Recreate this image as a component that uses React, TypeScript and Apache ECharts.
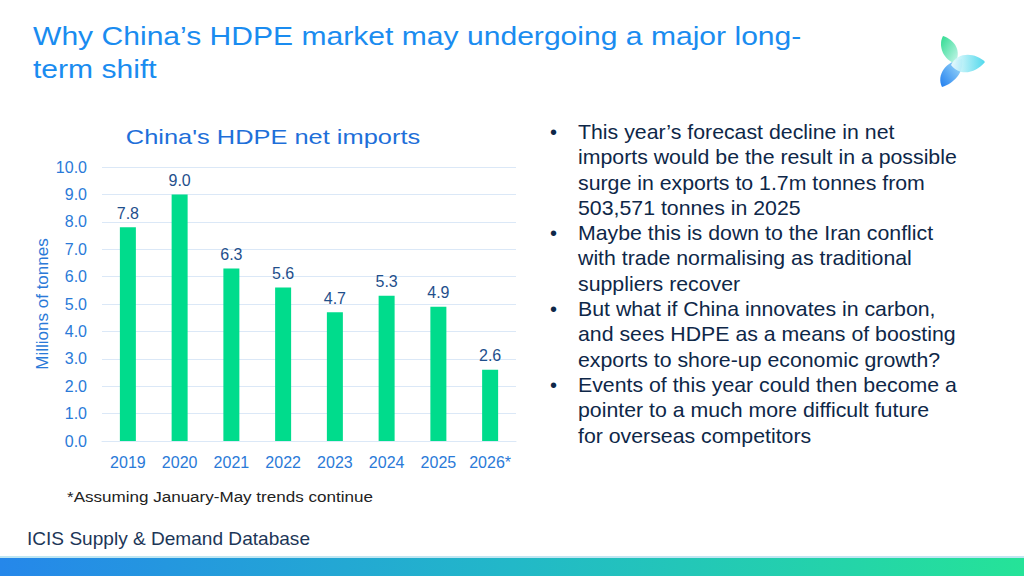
import React, { useEffect, useRef } from "react";
import * as echarts from "echarts";

const categories = ["2019", "2020", "2021", "2022", "2023", "2024", "2025", "2026*"];
const netImports = [7.8, 9.0, 6.3, 5.6, 4.7, 5.3, 4.9, 2.6];
const yTicks = { min: 0, max: 10, interval: 1 };

const titleLines = ["Why China\u2019s HDPE market may undergoing a major long-", "term shift"];
const chartTitle = "China's HDPE net imports";
const yAxisName = "Millions of tonnes";
const footnote = "*Assuming January-May trends continue";
const source = "ICIS Supply & Demand Database";
const bullets = [
  ["This year\u2019s forecast decline in net", "imports would be the result in a possible", "surge in exports to 1.7m tonnes from", "503,571 tonnes in 2025"],
  ["Maybe this is down to the Iran conflict", "with trade normalising as traditional", "suppliers recover"],
  ["But what if China innovates in carbon,", "and sees HDPE as a means of boosting", "exports to shore-up economic growth?"],
  ["Events of this year could then become a", "pointer to a much more difficult future", "for overseas competitors"],
];

const FONT = "Arial, 'Liberation Sans', Helvetica, sans-serif";

let registered = false;
function registerShapes() {
  if (registered) return;
  registered = true;
  echarts.graphic.registerShape(
    "petalGreen",
    echarts.graphic.extendPath("M-3,1 C-18,-6 -19,-20 -15,-27 C-3,-23 4,-12 -3,1 Z", {})
  );
  echarts.graphic.registerShape(
    "petalCyan",
    echarts.graphic.extendPath("M-7,2 C0,-12 18,-10 27,-1 C18,10 2,14 -7,2 Z", {})
  );
  echarts.graphic.registerShape(
    "petalBlue",
    echarts.graphic.extendPath("M4,-4 C6,10 -4,20 -16,24 C-22,12 -12,-2 4,-4 Z", {})
  );
}

export default function App() {
  const ref = useRef<HTMLDivElement>(null);

  useEffect(() => {
    document.body.style.margin = "0";
    registerShapes();
    const chart = echarts.init(ref.current!, null, { renderer: "svg" });

    const lineH = 25.3;
    const bulletGraphics: any[] = [];
    let lineIdx = 0;
    bullets.forEach((lines) => {
      const y = 119 + lineIdx * lineH;
      bulletGraphics.push({
        type: "text",
        x: 550,
        y,
        style: { text: "\u2022", font: `20px ${FONT}`, fill: "#0e2748", lineHeight: lineH, verticalAlign: "top" },
      });
      bulletGraphics.push({
        type: "text",
        x: 578,
        y,
        scaleX: 1.065,
        style: { text: lines.join("\n"), font: `20px ${FONT}`, fill: "#0e2748", lineHeight: lineH, verticalAlign: "top" },
      });
      lineIdx += lines.length;
    });

    const option: any = {
      animation: false,
      backgroundColor: "#ffffff",
      grid: { left: 102, right: 508, top: 167, bottom: 135, containLabel: false },
      xAxis: {
        type: "category",
        data: categories,
        axisLine: { show: true, lineStyle: { color: "#dbe8f7", width: 1 } },
        axisTick: { show: false },
        axisLabel: { color: "#2a7ad8", fontSize: 16, fontFamily: FONT, margin: 13, interval: 0 },
      },
      yAxis: {
        type: "value",
        min: yTicks.min,
        max: yTicks.max,
        interval: yTicks.interval,
        name: yAxisName,
        nameLocation: "middle",
        nameGap: 51,
        nameTextStyle: { color: "#2a7ad8", fontSize: 17, fontFamily: FONT },
        axisLine: { show: false },
        axisTick: { show: false },
        axisLabel: {
          color: "#2a7ad8",
          fontSize: 16,
          fontFamily: FONT,
          margin: 15,
          formatter: (v: number) => v.toFixed(1),
        },
        splitLine: { lineStyle: { color: "#dbe8f7", width: 1 } },
      },
      series: [
        {
          type: "bar",
          data: netImports,
          barWidth: 16,
          itemStyle: { color: "#00dc8c" },
          label: {
            show: true,
            position: "top",
            distance: 6,
            color: "#1f4f8c",
            fontSize: 16,
            fontFamily: FONT,
            formatter: (p: any) => Number(p.value).toFixed(1),
          },
        },
      ],
      graphic: [
        {
          type: "text",
          x: 33,
          y: 20,
          scaleX: 1.18,
          style: {
            text: titleLines.join("\n"),
            font: `25.5px ${FONT}`,
            fill: "#1a8cf0",
            lineHeight: 33,
            verticalAlign: "top",
          },
        },
        {
          type: "text",
          x: 273,
          y: 126,
          scaleX: 1.24,
          style: {
            text: chartTitle,
            font: `20.5px ${FONT}`,
            fill: "#1e6fd9",
            textAlign: "center",
            verticalAlign: "top",
          },
        },
        {
          type: "text",
          x: 67,
          y: 488,
          scaleX: 1.1,
          style: { text: footnote, font: `15.5px ${FONT}`, fill: "#222222", verticalAlign: "top" },
        },
        {
          type: "text",
          x: 27,
          y: 530,
          scaleX: 1.09,
          style: { text: source, font: `17.5px ${FONT}`, fill: "#1c3657", verticalAlign: "top" },
        },
        ...bulletGraphics,
        {
          type: "rect",
          x: 0,
          y: 556,
          shape: { width: 1024, height: 2 },
          style: { fill: "#bfe6f2" },
        },
        {
          type: "rect",
          x: 0,
          y: 558,
          shape: { width: 1024, height: 18 },
          style: {
            fill: new echarts.graphic.LinearGradient(0, 0, 1, 0, [
              { offset: 0, color: "#2587ea" },
              { offset: 0.5, color: "#22b8c8" },
              { offset: 1, color: "#25e398" },
            ]),
          },
        },
        {
          type: "group",
          x: 958,
          y: 63,
          children: [
            {
              type: "petalBlue",
              style: {
                fill: new echarts.graphic.LinearGradient(0, 1, 1, 0, [
                  { offset: 0, color: "#1577ee" },
                  { offset: 1, color: "#a8e4fa" },
                ]),
                opacity: 0.95,
              },
            },
            {
              type: "petalGreen",
              style: {
                fill: new echarts.graphic.LinearGradient(0, 0, 1, 1, [
                  { offset: 0, color: "#23d98a" },
                  { offset: 1, color: "#c8f6ec" },
                ]),
                opacity: 0.95,
              },
            },
            {
              type: "petalCyan",
              style: {
                fill: new echarts.graphic.LinearGradient(0, 0, 1, 0, [
                  { offset: 0, color: "#f2fdfe" },
                  { offset: 1, color: "#3dd4ea" },
                ]),
                opacity: 0.9,
              },
            },
          ],
        },
      ],
    };

    chart.setOption(option);
    return () => chart.dispose();
  }, []);

  return (
    <div
      ref={ref}
      style={{ position: "absolute", left: 0, top: 0, width: 1024, height: 576 }}
    />
  );
}
